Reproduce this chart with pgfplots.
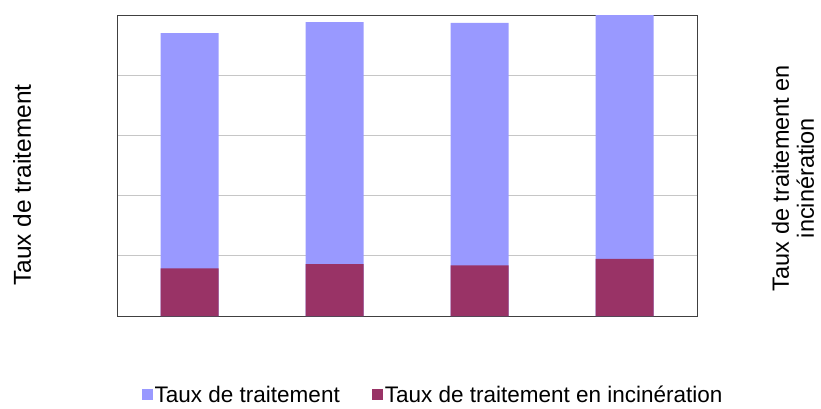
\documentclass[border=0pt]{standalone}
\usepackage{pgfplots}
\pgfplotsset{compat=1.18}
\usepackage{fontspec}
\setmainfont{Liberation Sans}

\definecolor{traitement}{HTML}{9999FF}
\definecolor{incin}{HTML}{993366}

\begin{document}
\begin{tikzpicture}
\path[use as bounding box] (0,0) rectangle (821pt,408pt);
\begin{axis}[
    at={(117pt,92pt)}, anchor=south west,
    scale only axis,
    width=580pt, height=301pt,
    xmin=-0.5, xmax=3.5,
    ymin=0, ymax=5,
    xtick=\empty,
    ytick={0,1,2,3,4,5},
    yticklabels={},
    major tick length=0pt,
    ymajorgrids,
    grid style={gray!45, line width=0.8pt},
    axis line style={black!75, line width=0.8pt},
    ybar, bar width=58pt, bar shift=0pt,
    legend style={at={(0.545,-0.262)}, anchor=center, draw=none,
        font=\fontsize{22.5}{26}\selectfont,
        legend columns=2,
        /tikz/every even column/.style={column sep=30pt}},
    legend image code/.code={\fill[#1] (0pt,-5pt) rectangle (11pt,6pt);},
]
\addplot[fill=traitement, draw=none] coordinates {(0,4.70) (1,4.88) (2,4.87) (3,5.00)};
\addlegendentry{Taux de traitement}
\addplot[fill=incin, draw=none] coordinates {(0,0.79) (1,0.86) (2,0.84) (3,0.95)};
\addlegendentry{Taux de traitement en incinération}
\end{axis}
\node[rotate=90, font=\fontsize{24.5}{28}\selectfont] at (22pt,223pt) {Taux de traitement};
\node[rotate=90, align=center, inner sep=0pt, font=\fontsize{23.5}{25}\selectfont] at (793pt,230pt)
    {Taux de traitement en\\incinération};
\end{tikzpicture}
\end{document}
